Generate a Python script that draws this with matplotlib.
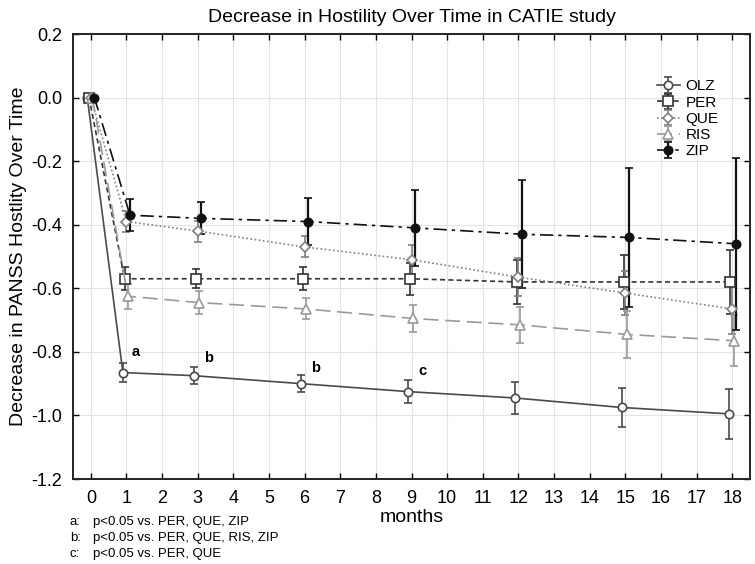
import matplotlib
matplotlib.use("Agg")
import matplotlib.pyplot as plt

plt.rcParams["font.family"] = ["Liberation Sans", "DejaVu Sans"]

# Data
months = [0, 1, 3, 6, 9, 12, 15, 18]
groups = ["OLZ", "PER", "QUE", "RIS", "ZIP"]

olz_mean = [0.0, -0.865, -0.875, -0.90, -0.925, -0.945, -0.975, -0.995]
olz_err = [0.0, 0.03, 0.027, 0.026, 0.036, 0.05, 0.06, 0.078]

per_mean = [0.0, -0.57, -0.57, -0.57, -0.57, -0.58, -0.58, -0.58]
per_err = [0.0, 0.036, 0.03, 0.036, 0.05, 0.07, 0.085, 0.10]

que_mean = [0.0, -0.39, -0.42, -0.47, -0.51, -0.565, -0.615, -0.665]
que_err = [0.0, 0.033, 0.033, 0.033, 0.045, 0.06, 0.07, 0.08]

ris_mean = [0.0, -0.625, -0.645, -0.665, -0.695, -0.715, -0.745, -0.765]
ris_err = [0.0, 0.04, 0.035, 0.033, 0.043, 0.057, 0.075, 0.08]

zip_mean = [0.0, -0.37, -0.38, -0.39, -0.41, -0.43, -0.44, -0.46]
zip_err = [0.0, 0.05, 0.05, 0.075, 0.12, 0.17, 0.22, 0.27]

# significance letters (month, y)
sig_labels = ["a", "b", "b", "c"]
sig_x = [1.25, 3.3, 6.3, 9.3]
sig_y = [-0.80, -0.82, -0.85, -0.86]

footnotes = ["a:", "b:", "c:"]
footnote_text = ["p<0.05 vs. PER, QUE, ZIP",
                 "p<0.05 vs. PER, QUE, RIS, ZIP",
                 "p<0.05 vs. PER, QUE"]

series = [
    (olz_mean, olz_err, "#4a4a4a", "-", "o", "white", 6, -0.1),
    (per_mean, per_err, "#333333", (0, (3, 2)), "s", "white", 6.5, -0.05),
    (que_mean, que_err, "#808080", (0, (1, 1.5)), "D", "white", 5, 0.0),
    (ris_mean, ris_err, "#9a9a9a", (0, (9, 4)), "^", "white", 6.5, 0.04),
    (zip_mean, zip_err, "#111111", (0, (8, 3, 2, 3)), "o", "#111111", 6, 0.1),
]

fig = plt.figure(figsize=(7.55, 5.64), dpi=100)
ax = fig.add_axes([0.0967, 0.1507, 0.8967, 0.789])

for name, (mean, err, col, ls, mk, fc, ms, dx) in zip(groups, series):
    xs = [m + dx for m in months]
    ax.errorbar(xs, mean, yerr=err, color=col, linestyle=ls, linewidth=1.2,
                marker=mk, markerfacecolor=fc, markeredgecolor=col,
                markersize=ms, markeredgewidth=1.2, capsize=3,
                elinewidth=1.6 if name == "ZIP" else 1.2, capthick=1.3,
                label=name, zorder=3)

for lab, x, y in zip(sig_labels, sig_x, sig_y):
    ax.text(x, y, lab, fontsize=10.5, fontweight="bold", ha="center", va="center")

ax.set_xlim(-0.5, 18.5)
ax.set_ylim(-1.2, 0.2)
ax.set_xticks(range(0, 19))
ax.set_yticks([0.2, 0.0, -0.2, -0.4, -0.6, -0.8, -1.0, -1.2])
ax.set_yticklabels(["0.2", "0.0", "-0.2", "-0.4", "-0.6", "-0.8", "-1.0", "-1.2"])
ax.tick_params(direction="in", top=True, right=True, labeltop=False,
               labelright=False, labelsize=13, length=4, width=1, pad=8)
ax.grid(True, color="#e4e4e4", linewidth=0.8)
ax.set_axisbelow(True)
for sp in ax.spines.values():
    sp.set_linewidth(1.4)
    sp.set_color("#222222")

ax.set_title("Decrease in Hostility Over Time in CATIE study", fontsize=14, pad=9)
ax.set_ylabel("Decrease in PANSS Hostlity Over Time", fontsize=14, labelpad=3)
ax.set_xlabel("months", fontsize=14, labelpad=1)

leg = ax.legend(loc="upper left", bbox_to_anchor=(0.853, 0.912), frameon=False,
                fontsize=11, handlelength=1.5, handletextpad=0.4,
                labelspacing=0.15, borderaxespad=0)

for i, (k, t) in enumerate(zip(footnotes, footnote_text)):
    y = 1 - (522 + 16 * i) / 564
    fig.text(70 / 755, y, k, fontsize=9.5, va="center")
    fig.text(93 / 755, y, t, fontsize=9.5, va="center")

fig.savefig("out.png", dpi=100)
